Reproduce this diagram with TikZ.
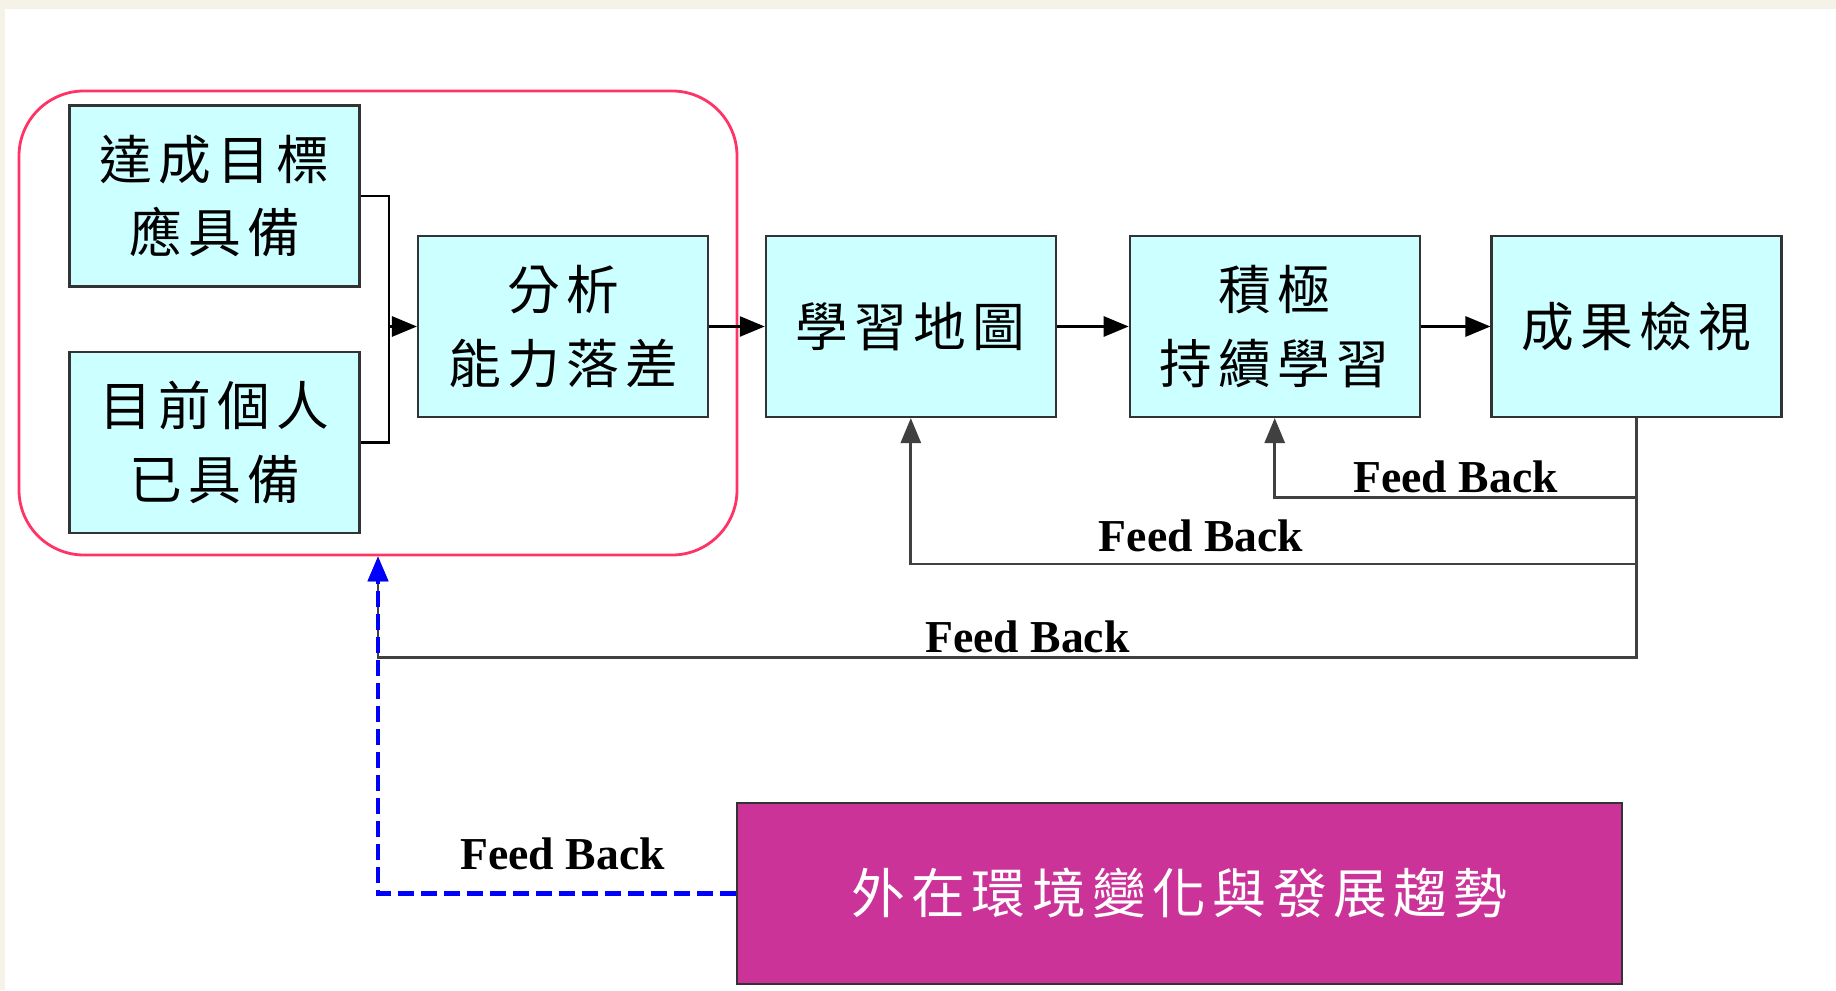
\documentclass[tikz,border=0pt]{standalone}
\usepackage{fontspec}
\setmainfont{Liberation Serif}
\newfontfamily\cjk[LetterSpace=12]{Noto Sans CJK TC}
\usetikzlibrary{arrows.meta, positioning}
\definecolor{boxcyan}{RGB}{204,255,255}
\definecolor{framepink}{RGB}{255,51,102}
\definecolor{envmag}{RGB}{204,51,153}
\definecolor{paper}{RGB}{245,242,232}
\tikzset{
  stepbox/.style={draw=black!80, line width=0.6pt, fill=boxcyan, minimum width=2.9cm, minimum height=1.81cm, align=center, font=\cjk\fontsize{15}{21}\selectfont},
  flow/.style={line width=0.8pt, -{Triangle[length=2.5mm,width=2mm]}},
  fbline/.style={draw=black!75, line width=0.8pt},
  fblabel/.style={above, inner sep=1pt, font=\bfseries\fontsize{13}{15}\selectfont},
}

\begin{document}
\begin{tikzpicture}
        \useasboundingbox (0,0) rectangle (18.36,9.9);
        \fill[paper] (0,9.81) rectangle (18.36,9.9);
        \fill[paper] (0,0) rectangle (0.05,9.9);
        \node[draw=framepink, line width=0.8pt, rounded corners=0.65cm, minimum width=7.18cm, minimum height=4.64cm] (frame) at (3.78,6.67) {};
        \node[stepbox] (goal) at (2.145,7.94) {達成目標\\應具備};
        \node[stepbox] (now) at (2.145,5.475) {目前個人\\已具備};
        \node[stepbox] (gap) at (5.63,6.635) {分析\\能力落差};
        \node[stepbox, right=0.557cm of gap] (map) {學習地圖};
        \node[stepbox, right=0.718cm of map] (act) {積極\\持續學習};
        \node[stepbox, right=0.697cm of act] (res) {成果檢視};
        \node[draw=black!80, line width=0.8pt, fill=envmag, minimum width=8.85cm, minimum height=1.81cm, text=white, font=\cjk\fontsize{15.3}{21}\selectfont] (env) at (11.795,0.965) {外在環境變化與發展趨勢};
        \coordinate (join) at (3.89,6.635);
        \draw[line width=0.8pt] (goal.east) -| (join) |- (now.east);
        \draw[flow] (join) -- (gap.west);
        \draw[flow] (gap.east) -- (map.west);
        \draw[flow] (map.east) -- (act.west);
        \draw[flow] (act.east) -- (res.west);
        \draw[fbline, flow] (res.south) |- ([yshift=-0.795cm]act.south) node[fblabel, pos=0.75] {Feed Back} -- (act.south);
        \draw[fbline, flow] (res.south) |- ([yshift=-1.46cm]map.south) node[fblabel, pos=0.8, yshift=2pt] {Feed Back} -- (map.south);
        \draw[fbline, flow] (res.south) |- ([yshift=-1.01cm]frame.south) node[fblabel, pos=0.742] {Feed Back} -- (frame.south);
        \draw[blue, line width=1.2pt, dash pattern=on 0.16cm off 0.07cm, -{Triangle[length=2.5mm,width=2mm]}] (env.west) -| (frame.south) node[fblabel, text=black, pos=0.242, yshift=5pt] {Feed Back};
\end{tikzpicture}
\end{document}
